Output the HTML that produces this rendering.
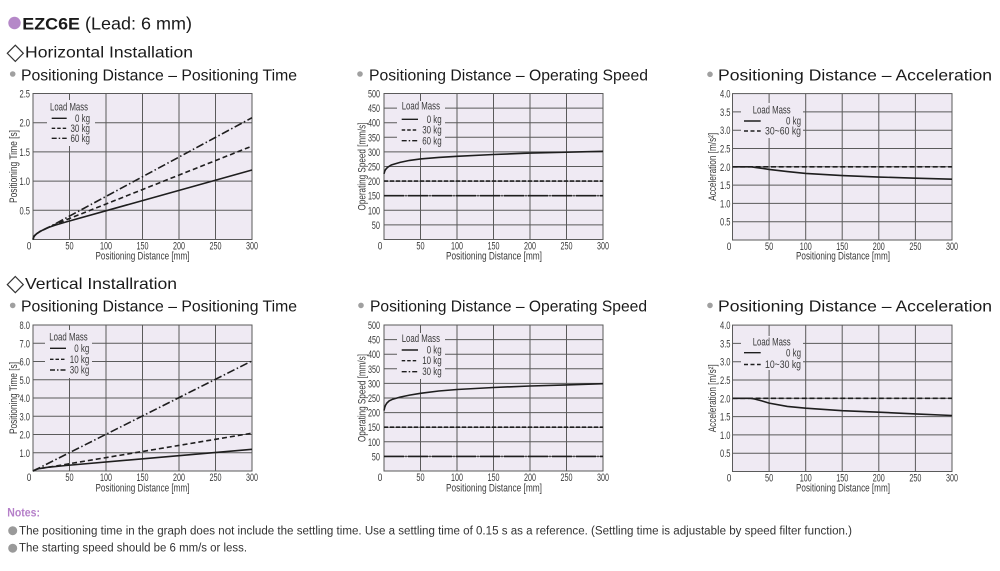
<!DOCTYPE html>
<html><head><meta charset="utf-8">
<style>
html,body{margin:0;padding:0;background:#fff;overflow:hidden;}
svg{display:block;}
.t{font-family:"Liberation Sans",Arial,sans-serif;fill:#1a1a1a;}
.n{font-family:"Liberation Sans Narrow","Liberation Sans",Arial,sans-serif;fill:#3a3a3a;font-size:11px;}
.g{stroke:#5a5a5a;stroke-width:1;fill:none;}
.bg{fill:#efeaf3;}
.c{fill:none;stroke:#1e1e1e;stroke-width:1.6;}
.l{fill:none;stroke:#1e1e1e;stroke-width:1.4;}
</style></head><body>
<svg width="1000" height="571" viewBox="0 0 1000 571" xmlns="http://www.w3.org/2000/svg">
<!-- Header -->
<circle cx="14.5" cy="23" r="6.2" fill="#b588c8"/>
<text class="t" x="22.3" y="29.3" font-weight="bold" font-size="17" textLength="57.7" lengthAdjust="spacingAndGlyphs">EZC6E</text>
<text class="t" x="85" y="29.3" font-size="17.5" textLength="107" lengthAdjust="spacingAndGlyphs">(Lead: 6 mm)</text>

<polygon points="15.3,45.2 23.3,53.3 15.3,61.4 7.3,53.3" fill="none" stroke="#333" stroke-width="1.2"/>
<text class="t" x="25" y="57.7" font-size="16" textLength="168" lengthAdjust="spacingAndGlyphs">Horizontal Installation</text>

<circle cx="12.7" cy="74" r="2.8" fill="#a0a0a0"/>
<text class="t" x="21" y="80.3" font-size="16" textLength="276" lengthAdjust="spacingAndGlyphs">Positioning Distance – Positioning Time</text>
<circle cx="360" cy="74" r="2.8" fill="#a0a0a0"/>
<text class="t" x="369" y="80.3" font-size="16" textLength="279" lengthAdjust="spacingAndGlyphs">Positioning Distance – Operating Speed</text>
<circle cx="710" cy="74.3" r="2.8" fill="#a0a0a0"/>
<text class="t" x="718" y="80.3" font-size="16" textLength="274" lengthAdjust="spacingAndGlyphs">Positioning Distance – Acceleration</text>

<polygon points="15.3,276.5 23.3,284.6 15.3,292.7 7.3,284.6" fill="none" stroke="#333" stroke-width="1.2"/>
<text class="t" x="25" y="289" font-size="16" textLength="152" lengthAdjust="spacingAndGlyphs">Vertical Installration</text>

<circle cx="12.7" cy="305.4" r="2.8" fill="#a0a0a0"/>
<text class="t" x="21" y="311.7" font-size="16" textLength="276" lengthAdjust="spacingAndGlyphs">Positioning Distance – Positioning Time</text>
<circle cx="361" cy="305.4" r="2.8" fill="#a0a0a0"/>
<text class="t" x="370" y="311.7" font-size="16" textLength="277" lengthAdjust="spacingAndGlyphs">Positioning Distance – Operating Speed</text>
<circle cx="710" cy="305.4" r="2.8" fill="#a0a0a0"/>
<text class="t" x="718" y="311.7" font-size="16" textLength="274" lengthAdjust="spacingAndGlyphs">Positioning Distance – Acceleration</text>

<!-- ============ C1 ============ -->
<rect class="bg" x="33" y="93.5" width="219" height="146"/>
<path class="g" d="M69.5,93.5V239.5M106,93.5V239.5M142.5,93.5V239.5M179,93.5V239.5M215.5,93.5V239.5M33,210.3H252M33,181.1H252M33,151.9H252M33,122.7H252"/>
<rect class="bg" x="47" y="100" width="48" height="46"/>
<rect class="g" x="33" y="93.5" width="219" height="146"/>
<g class="n" text-anchor="end">
<text x="30" y="97.5" textLength="10.5" lengthAdjust="spacingAndGlyphs">2.5</text><text x="30" y="126.7" textLength="10.5" lengthAdjust="spacingAndGlyphs">2.0</text><text x="30" y="155.9" textLength="10.5" lengthAdjust="spacingAndGlyphs">1.5</text><text x="30" y="185.1" textLength="10.5" lengthAdjust="spacingAndGlyphs">1.0</text><text x="30" y="214.3" textLength="10.5" lengthAdjust="spacingAndGlyphs">0.5</text>
</g>
<g class="n" text-anchor="middle">
<text x="29" y="249.3" textLength="4.6" lengthAdjust="spacingAndGlyphs">0</text><text x="69.5" y="249.3" textLength="8.2" lengthAdjust="spacingAndGlyphs">50</text><text x="106" y="249.3" textLength="12" lengthAdjust="spacingAndGlyphs">100</text><text x="142.5" y="249.3" textLength="12" lengthAdjust="spacingAndGlyphs">150</text><text x="179" y="249.3" textLength="12" lengthAdjust="spacingAndGlyphs">200</text><text x="215.5" y="249.3" textLength="12" lengthAdjust="spacingAndGlyphs">250</text><text x="252" y="249.3" textLength="12" lengthAdjust="spacingAndGlyphs">300</text>
<text x="142.5" y="259.7" textLength="94" lengthAdjust="spacingAndGlyphs">Positioning Distance [mm]</text>
<text transform="translate(16.8,166.5) rotate(-90)" textLength="73" lengthAdjust="spacingAndGlyphs">Positioning Time [s]</text>
</g>
<path class="c" d="M33,239.5L33.73,236.9L34.46,235.8L36.65,233.7L40.3,231.3L47.6,227.8L54.9,225.2L65.85,222L252,170"/>
<path class="c" stroke-dasharray="5 3" d="M33,239.5L33.73,236.9L34.46,235.8L36.65,233.7L40.3,231.3L47.6,227.8L54.9,224.6L69.5,218.5L252,146.1"/>
<path class="c" stroke-dasharray="8 2.5 1.5 2.5" d="M33,239.5L33.73,236.9L34.46,235.8L36.65,233.7L40.3,231.3L47.6,227.8L54.9,224L69.5,216.1L252,117.7"/>
<g class="n">
<text x="50" y="110.3" textLength="38" lengthAdjust="spacingAndGlyphs">Load Mass</text>
<g text-anchor="end"><text x="90" y="121.8" textLength="15" lengthAdjust="spacingAndGlyphs">0 kg</text><text x="90" y="131.8" textLength="19.5" lengthAdjust="spacingAndGlyphs">30 kg</text><text x="90" y="141.8" textLength="19.5" lengthAdjust="spacingAndGlyphs">60 kg</text></g>
</g>
<path class="l" d="M51.7,118.3H66.7"/>
<path class="l" stroke-dasharray="3.5 2" d="M51.7,128.3H66.7"/>
<path class="l" stroke-dasharray="5 2 1.5 2" d="M51.7,138.3H66.7"/>

<!-- ============ C2 ============ -->
<rect class="bg" x="384" y="93.5" width="219" height="146"/>
<path class="g" d="M420.5,93.5V239.5M457,93.5V239.5M493.5,93.5V239.5M530,93.5V239.5M566.5,93.5V239.5M384,224.9H603M384,210.3H603M384,195.7H603M384,181.1H603M384,166.5H603M384,151.9H603M384,137.3H603M384,122.7H603M384,108.1H603"/>
<rect class="bg" x="397" y="101" width="48" height="47"/>
<rect class="g" x="384" y="93.5" width="219" height="146"/>
<g class="n" text-anchor="end">
<text x="380" y="97.5" textLength="12" lengthAdjust="spacingAndGlyphs">500</text><text x="380" y="112.1" textLength="12" lengthAdjust="spacingAndGlyphs">450</text><text x="380" y="126.7" textLength="12" lengthAdjust="spacingAndGlyphs">400</text><text x="380" y="141.3" textLength="12" lengthAdjust="spacingAndGlyphs">350</text><text x="380" y="155.9" textLength="12" lengthAdjust="spacingAndGlyphs">300</text><text x="380" y="170.5" textLength="12" lengthAdjust="spacingAndGlyphs">250</text><text x="380" y="185.1" textLength="12" lengthAdjust="spacingAndGlyphs">200</text><text x="380" y="199.7" textLength="12" lengthAdjust="spacingAndGlyphs">150</text><text x="380" y="214.3" textLength="12" lengthAdjust="spacingAndGlyphs">100</text><text x="380" y="228.9" textLength="8.2" lengthAdjust="spacingAndGlyphs">50</text>
</g>
<g class="n" text-anchor="middle">
<text x="380" y="249.3" textLength="4.6" lengthAdjust="spacingAndGlyphs">0</text><text x="420.5" y="249.3" textLength="8.2" lengthAdjust="spacingAndGlyphs">50</text><text x="457" y="249.3" textLength="12" lengthAdjust="spacingAndGlyphs">100</text><text x="493.5" y="249.3" textLength="12" lengthAdjust="spacingAndGlyphs">150</text><text x="530" y="249.3" textLength="12" lengthAdjust="spacingAndGlyphs">200</text><text x="566.5" y="249.3" textLength="12" lengthAdjust="spacingAndGlyphs">250</text><text x="603" y="249.3" textLength="12" lengthAdjust="spacingAndGlyphs">300</text>
<text x="494" y="259.7" textLength="96" lengthAdjust="spacingAndGlyphs">Positioning Distance [mm]</text>
<text transform="translate(365.3,166.5) rotate(-90)" textLength="88" lengthAdjust="spacingAndGlyphs">Operating Speed [mm/s]</text>
</g>
<path class="c" stroke-dasharray="4 2" d="M384,181.1H603"/>
<path class="c" stroke-dasharray="20 1.5 1 1.5" d="M384,195.7H603"/>
<path class="c" d="M384,173.8L384.73,171.2L385.46,169.7L386.92,168L388.38,166.8L391.3,165L394.95,163.9L400.06,162.4L409.55,160.4L420.5,158.9L438.75,157.4L457,156.3L493.5,154.5L530,153.1L566.5,152.2L603,151.3"/>
<g class="n">
<text x="401.7" y="109.6" textLength="38.3" lengthAdjust="spacingAndGlyphs">Load Mass</text>
<g text-anchor="end"><text x="441.7" y="122.8" textLength="15" lengthAdjust="spacingAndGlyphs">0 kg</text><text x="441.7" y="133.5" textLength="19.5" lengthAdjust="spacingAndGlyphs">30 kg</text><text x="441.7" y="144.3" textLength="19.5" lengthAdjust="spacingAndGlyphs">60 kg</text></g>
</g>
<path class="l" d="M401.7,119.3H418"/>
<path class="l" stroke-dasharray="3.5 2" d="M401.7,130H418"/>
<path class="l" stroke-dasharray="5 2 1.5 2" d="M401.7,140.7H418"/>

<!-- ============ C3 ============ -->
<rect class="bg" x="732.5" y="93.6" width="219.5" height="146.4"/>
<path class="g" d="M769.1,93.6V240M805.7,93.6V240M842.2,93.6V240M878.8,93.6V240M915.4,93.6V240M732.5,221.7H952M732.5,203.4H952M732.5,185.1H952M732.5,166.8H952M732.5,148.5H952M732.5,130.2H952M732.5,111.9H952"/>
<rect class="bg" x="741" y="103" width="62" height="35"/>
<rect class="g" x="732.5" y="93.6" width="219.5" height="146.4"/>
<g class="n" text-anchor="end">
<text x="730.5" y="97.6" textLength="10.5" lengthAdjust="spacingAndGlyphs">4.0</text><text x="730.5" y="115.9" textLength="10.5" lengthAdjust="spacingAndGlyphs">3.5</text><text x="730.5" y="134.2" textLength="10.5" lengthAdjust="spacingAndGlyphs">3.0</text><text x="730.5" y="152.5" textLength="10.5" lengthAdjust="spacingAndGlyphs">2.5</text><text x="730.5" y="170.8" textLength="10.5" lengthAdjust="spacingAndGlyphs">2.0</text><text x="730.5" y="189.1" textLength="10.5" lengthAdjust="spacingAndGlyphs">1.5</text><text x="730.5" y="207.4" textLength="10.5" lengthAdjust="spacingAndGlyphs">1.0</text><text x="730.5" y="225.7" textLength="10.5" lengthAdjust="spacingAndGlyphs">0.5</text>
</g>
<g class="n" text-anchor="middle">
<text x="729" y="249.8" textLength="4.6" lengthAdjust="spacingAndGlyphs">0</text><text x="769.1" y="249.8" textLength="8.2" lengthAdjust="spacingAndGlyphs">50</text><text x="805.7" y="249.8" textLength="12" lengthAdjust="spacingAndGlyphs">100</text><text x="842.2" y="249.8" textLength="12" lengthAdjust="spacingAndGlyphs">150</text><text x="878.8" y="249.8" textLength="12" lengthAdjust="spacingAndGlyphs">200</text><text x="915.4" y="249.8" textLength="12" lengthAdjust="spacingAndGlyphs">250</text><text x="952" y="249.8" textLength="12" lengthAdjust="spacingAndGlyphs">300</text>
<text x="843" y="259.7" textLength="94" lengthAdjust="spacingAndGlyphs">Positioning Distance [mm]</text>
<text transform="translate(715.8,166.8) rotate(-90)" textLength="68" lengthAdjust="spacingAndGlyphs">Acceleration [m/s²]</text>
</g>
<path class="c" stroke-dasharray="5 2.7" d="M732.5,166.8H952"/>
<path class="c" d="M732.5,166.8L751.5,166.8L754.5,167.35L761.8,168.3L769.1,169.4L787.4,171.6L805.7,173.4L842.3,175.6L878.8,177.05L915.4,178.15L952,179.2"/>
<g class="n">
<text x="752.7" y="113.6" textLength="38" lengthAdjust="spacingAndGlyphs">Load Mass</text>
<g text-anchor="end"><text x="801" y="124.6" textLength="15" lengthAdjust="spacingAndGlyphs">0 kg</text><text x="801" y="134.6" textLength="36" lengthAdjust="spacingAndGlyphs">30~60 kg</text></g>
</g>
<path class="l" d="M744,121H760.7"/>
<path class="l" stroke-dasharray="4 2.5" d="M744,131H760.7"/>

<!-- ============ C4 ============ -->
<rect class="bg" x="33" y="325" width="219" height="146"/>
<path class="g" d="M69.5,325V471M106,325V471M142.5,325V471M179,325V471M215.5,325V471M33,452.75H252M33,434.5H252M33,416.25H252M33,398H252M33,379.75H252M33,361.5H252M33,343.25H252"/>
<rect class="bg" x="45" y="330" width="47" height="48"/>
<rect class="g" x="33" y="325" width="219" height="146"/>
<g class="n" text-anchor="end">
<text x="30" y="329" textLength="10.5" lengthAdjust="spacingAndGlyphs">8.0</text><text x="30" y="347.25" textLength="10.5" lengthAdjust="spacingAndGlyphs">7.0</text><text x="30" y="365.5" textLength="10.5" lengthAdjust="spacingAndGlyphs">6.0</text><text x="30" y="383.75" textLength="10.5" lengthAdjust="spacingAndGlyphs">5.0</text><text x="30" y="402" textLength="10.5" lengthAdjust="spacingAndGlyphs">4.0</text><text x="30" y="420.25" textLength="10.5" lengthAdjust="spacingAndGlyphs">3.0</text><text x="30" y="438.5" textLength="10.5" lengthAdjust="spacingAndGlyphs">2.0</text><text x="30" y="456.75" textLength="10.5" lengthAdjust="spacingAndGlyphs">1.0</text>
</g>
<g class="n" text-anchor="middle">
<text x="29" y="480.8" textLength="4.6" lengthAdjust="spacingAndGlyphs">0</text><text x="69.5" y="480.8" textLength="8.2" lengthAdjust="spacingAndGlyphs">50</text><text x="106" y="480.8" textLength="12" lengthAdjust="spacingAndGlyphs">100</text><text x="142.5" y="480.8" textLength="12" lengthAdjust="spacingAndGlyphs">150</text><text x="179" y="480.8" textLength="12" lengthAdjust="spacingAndGlyphs">200</text><text x="215.5" y="480.8" textLength="12" lengthAdjust="spacingAndGlyphs">250</text><text x="252" y="480.8" textLength="12" lengthAdjust="spacingAndGlyphs">300</text>
<text x="142.5" y="491.7" textLength="94" lengthAdjust="spacingAndGlyphs">Positioning Distance [mm]</text>
<text transform="translate(16.8,398) rotate(-90)" textLength="72" lengthAdjust="spacingAndGlyphs">Positioning Time [s]</text>
</g>
<path class="c" d="M33,471L36.65,469.2L40.3,468.4L47.6,467.35L65.85,465.5L252,449.3"/>
<path class="c" stroke-dasharray="5 3" d="M33,471L36.65,469.2L40.3,468.4L47.6,467.35L54.9,466.2L69.5,463.7L252,433.2"/>
<path class="c" stroke-dasharray="8 2.5 1.5 2.5" d="M33,471L252,360.9"/>
<g class="n">
<text x="49.3" y="340.3" textLength="38.4" lengthAdjust="spacingAndGlyphs">Load Mass</text>
<g text-anchor="end"><text x="89.3" y="351.8" textLength="15" lengthAdjust="spacingAndGlyphs">0 kg</text><text x="89.3" y="362.8" textLength="19.5" lengthAdjust="spacingAndGlyphs">10 kg</text><text x="89.3" y="373.6" textLength="19.5" lengthAdjust="spacingAndGlyphs">30 kg</text></g>
</g>
<path class="l" d="M50,348.3H66"/>
<path class="l" stroke-dasharray="3.5 2" d="M50,359.3H66"/>
<path class="l" stroke-dasharray="5 2 1.5 2" d="M50,370H66"/>

<!-- ============ C5 ============ -->
<rect class="bg" x="384" y="325" width="219" height="146"/>
<path class="g" d="M420.5,325V471M457,325V471M493.5,325V471M530,325V471M566.5,325V471M384,456.4H603M384,441.8H603M384,427.2H603M384,412.6H603M384,398H603M384,383.4H603M384,368.8H603M384,354.2H603M384,339.6H603"/>
<rect class="bg" x="397" y="333" width="48" height="46"/>
<rect class="g" x="384" y="325" width="219" height="146"/>
<g class="n" text-anchor="end">
<text x="380" y="329" textLength="12" lengthAdjust="spacingAndGlyphs">500</text><text x="380" y="343.6" textLength="12" lengthAdjust="spacingAndGlyphs">450</text><text x="380" y="358.2" textLength="12" lengthAdjust="spacingAndGlyphs">400</text><text x="380" y="372.8" textLength="12" lengthAdjust="spacingAndGlyphs">350</text><text x="380" y="387.4" textLength="12" lengthAdjust="spacingAndGlyphs">300</text><text x="380" y="402" textLength="12" lengthAdjust="spacingAndGlyphs">250</text><text x="380" y="416.6" textLength="12" lengthAdjust="spacingAndGlyphs">200</text><text x="380" y="431.2" textLength="12" lengthAdjust="spacingAndGlyphs">150</text><text x="380" y="445.8" textLength="12" lengthAdjust="spacingAndGlyphs">100</text><text x="380" y="460.4" textLength="8.2" lengthAdjust="spacingAndGlyphs">50</text>
</g>
<g class="n" text-anchor="middle">
<text x="380" y="480.8" textLength="4.6" lengthAdjust="spacingAndGlyphs">0</text><text x="420.5" y="480.8" textLength="8.2" lengthAdjust="spacingAndGlyphs">50</text><text x="457" y="480.8" textLength="12" lengthAdjust="spacingAndGlyphs">100</text><text x="493.5" y="480.8" textLength="12" lengthAdjust="spacingAndGlyphs">150</text><text x="530" y="480.8" textLength="12" lengthAdjust="spacingAndGlyphs">200</text><text x="566.5" y="480.8" textLength="12" lengthAdjust="spacingAndGlyphs">250</text><text x="603" y="480.8" textLength="12" lengthAdjust="spacingAndGlyphs">300</text>
<text x="494" y="491.7" textLength="96" lengthAdjust="spacingAndGlyphs">Positioning Distance [mm]</text>
<text transform="translate(365.3,398) rotate(-90)" textLength="88" lengthAdjust="spacingAndGlyphs">Operating Speed [mm/s]</text>
</g>
<path class="c" stroke-dasharray="4 2" d="M384,427.2H603"/>
<path class="c" stroke-dasharray="20 1.5 1 1.5" d="M384,456.4H603"/>
<path class="c" d="M384,410.6L384.73,407.3L385.46,405.3L386.92,403L389.11,400.9L392.76,399.2L400.06,397.1L409.55,395.1L420.5,393.3L438.75,391L457,389.5L493.5,387.5L530,386L566.5,384.9L603,383.7"/>
<g class="n">
<text x="401.7" y="342" textLength="38.3" lengthAdjust="spacingAndGlyphs">Load Mass</text>
<g text-anchor="end"><text x="441.7" y="353.5" textLength="15" lengthAdjust="spacingAndGlyphs">0 kg</text><text x="441.7" y="364.2" textLength="19.5" lengthAdjust="spacingAndGlyphs">10 kg</text><text x="441.7" y="375.2" textLength="19.5" lengthAdjust="spacingAndGlyphs">30 kg</text></g>
</g>
<path class="l" d="M401.7,350H418"/>
<path class="l" stroke-dasharray="3.5 2" d="M401.7,360.7H418"/>
<path class="l" stroke-dasharray="5 2 1.5 2" d="M401.7,371.7H418"/>

<!-- ============ C6 ============ -->
<rect class="bg" x="732.5" y="325.1" width="219.5" height="146.4"/>
<path class="g" d="M769.1,325.1V471.5M805.7,325.1V471.5M842.2,325.1V471.5M878.8,325.1V471.5M915.4,325.1V471.5M732.5,453.2H952M732.5,434.9H952M732.5,416.6H952M732.5,398.3H952M732.5,380H952M732.5,361.7H952M732.5,343.4H952"/>
<rect class="bg" x="741" y="336" width="62" height="34"/>
<rect class="g" x="732.5" y="325.1" width="219.5" height="146.4"/>
<g class="n" text-anchor="end">
<text x="730.5" y="329.1" textLength="10.5" lengthAdjust="spacingAndGlyphs">4.0</text><text x="730.5" y="347.4" textLength="10.5" lengthAdjust="spacingAndGlyphs">3.5</text><text x="730.5" y="365.7" textLength="10.5" lengthAdjust="spacingAndGlyphs">3.0</text><text x="730.5" y="384" textLength="10.5" lengthAdjust="spacingAndGlyphs">2.5</text><text x="730.5" y="402.3" textLength="10.5" lengthAdjust="spacingAndGlyphs">2.0</text><text x="730.5" y="420.6" textLength="10.5" lengthAdjust="spacingAndGlyphs">1.5</text><text x="730.5" y="438.9" textLength="10.5" lengthAdjust="spacingAndGlyphs">1.0</text><text x="730.5" y="457.2" textLength="10.5" lengthAdjust="spacingAndGlyphs">0.5</text>
</g>
<g class="n" text-anchor="middle">
<text x="729" y="481.3" textLength="4.6" lengthAdjust="spacingAndGlyphs">0</text><text x="769.1" y="481.3" textLength="8.2" lengthAdjust="spacingAndGlyphs">50</text><text x="805.7" y="481.3" textLength="12" lengthAdjust="spacingAndGlyphs">100</text><text x="842.2" y="481.3" textLength="12" lengthAdjust="spacingAndGlyphs">150</text><text x="878.8" y="481.3" textLength="12" lengthAdjust="spacingAndGlyphs">200</text><text x="915.4" y="481.3" textLength="12" lengthAdjust="spacingAndGlyphs">250</text><text x="952" y="481.3" textLength="12" lengthAdjust="spacingAndGlyphs">300</text>
<text x="843" y="491.7" textLength="94" lengthAdjust="spacingAndGlyphs">Positioning Distance [mm]</text>
<text transform="translate(715.8,398.3) rotate(-90)" textLength="68" lengthAdjust="spacingAndGlyphs">Acceleration [m/s²]</text>
</g>
<path class="c" stroke-dasharray="5 2.7" d="M732.5,398.3H952"/>
<path class="c" d="M732.5,398.3L750.8,398.3L754.5,399L761.8,400.9L769.1,403.1L787.4,406.4L805.7,408.2L842.3,410.7L878.8,412.2L915.4,413.9L952,415.5"/>
<g class="n">
<text x="752.7" y="345.3" textLength="38" lengthAdjust="spacingAndGlyphs">Load Mass</text>
<g text-anchor="end"><text x="801" y="356.3" textLength="15" lengthAdjust="spacingAndGlyphs">0 kg</text><text x="801" y="367.8" textLength="36" lengthAdjust="spacingAndGlyphs">10~30 kg</text></g>
</g>
<path class="l" d="M744,352.7H760.7"/>
<path class="l" stroke-dasharray="4 2.5" d="M744,364.5H760.7"/>

<!-- Notes -->
<text x="7.3" y="516.7" font-family="Liberation Sans Narrow, Liberation Sans, Arial, sans-serif" font-weight="bold" font-size="12" fill="#b57fc9" textLength="32.7" lengthAdjust="spacingAndGlyphs">Notes:</text>
<circle cx="12.7" cy="530.7" r="4.5" fill="#9a9a9a"/>
<circle cx="12.7" cy="548.2" r="4.5" fill="#9a9a9a"/>
<text x="19" y="534.3" font-family="Liberation Sans Narrow, Liberation Sans, Arial, sans-serif" font-size="11.5" fill="#333" textLength="833" lengthAdjust="spacingAndGlyphs">The positioning time in the graph does not include the settling time. Use a settling time of 0.15 s as a reference. (Settling time is adjustable by speed filter function.)</text>
<text x="19" y="551.7" font-family="Liberation Sans Narrow, Liberation Sans, Arial, sans-serif" font-size="11.5" fill="#333" textLength="228" lengthAdjust="spacingAndGlyphs">The starting speed should be 6 mm/s or less.</text>
</svg>
</body></html>
